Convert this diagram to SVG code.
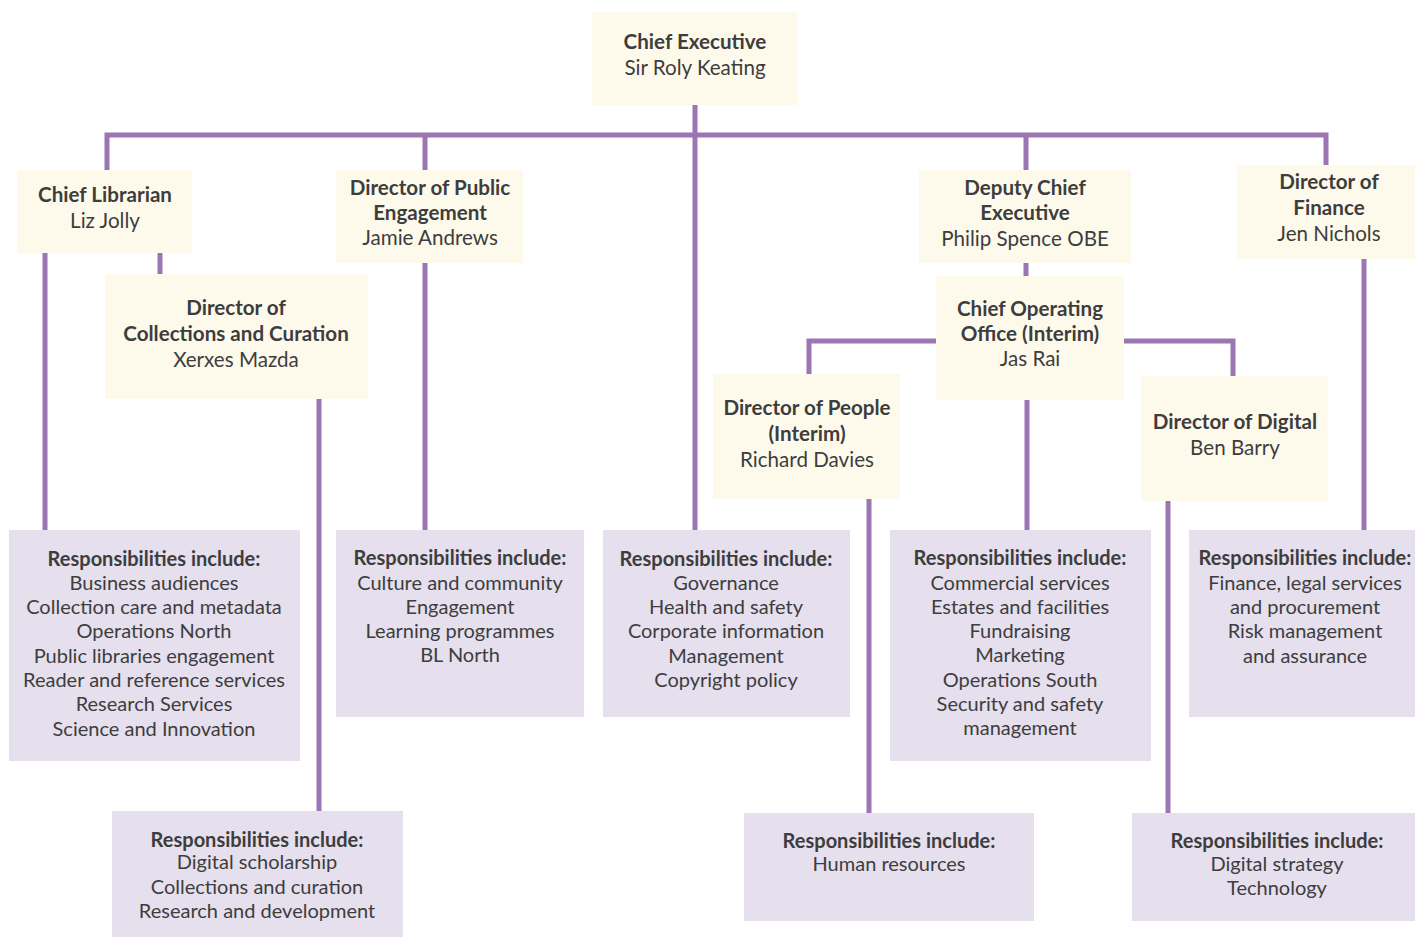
<svg xmlns="http://www.w3.org/2000/svg" width="1415" height="937" viewBox="0 0 1415 937">
<style>
.role{fill:#fefaeb}
.resp{fill:#e5dfee}
.ln{stroke:#9c75b3;stroke-width:5;fill:none}
text{font-family:Lato,"Open Sans","Liberation Sans",sans-serif;font-size:20px;fill:#3d3d3d;text-anchor:middle}
.b{font-weight:bold}
.t{font-size:20.6px}
</style>
<rect width="1415" height="937" fill="#ffffff"/>
<g id="connectors">
<path class="ln" d="M107,170 V135 H1326 V165"/>
<path class="ln" d="M695,105 V530"/>
<path class="ln" d="M425,135 V170 M425,263 V530"/>
<path class="ln" d="M1026,135 V170 M1026,263 V276"/>
<path class="ln" d="M45,253 V530 M160,253 V274"/>
<path class="ln" d="M319,399 V811"/>
<path class="ln" d="M809,374 V341 H936 M1124,341 H1233 V376"/>
<path class="ln" d="M1027,400 V530"/>
<path class="ln" d="M869,499 V813"/>
<path class="ln" d="M1168,501 V813"/>
<path class="ln" d="M1364,259 V530"/>
</g>
<g id="chief-executive">
<rect class="role" x="592" y="12" width="205" height="93"/>
<text x="695" y="49" class="b t">Chief Executive</text>
<text x="695" y="75" class="t">Sir Roly Keating</text>
</g>
<g id="chief-librarian">
<rect class="role" x="17" y="170" width="175" height="83"/>
<text x="105" y="202" class="b t">Chief Librarian</text>
<text x="105" y="228" class="t">Liz Jolly</text>
</g>
<g id="director-public-engagement">
<rect class="role" x="336" y="170" width="187" height="93"/>
<text x="430" y="195" class="b t">Director of Public</text>
<text x="430" y="220" class="b t">Engagement</text>
<text x="430" y="245" class="t">Jamie Andrews</text>
</g>
<g id="director-collections">
<rect class="role" x="105" y="274" width="263" height="125"/>
<text x="236" y="315" class="b t">Director of</text>
<text x="236" y="341" class="b t">Collections and Curation</text>
<text x="236" y="367" class="t">Xerxes Mazda</text>
</g>
<g id="deputy-chief-executive">
<rect class="role" x="919" y="170" width="212" height="93"/>
<text x="1025" y="195" class="b t">Deputy Chief</text>
<text x="1025" y="220" class="b t">Executive</text>
<text x="1025" y="246" class="t">Philip Spence OBE</text>
</g>
<g id="director-finance">
<rect class="role" x="1237" y="165" width="178" height="94"/>
<text x="1329" y="189" class="b t">Director of</text>
<text x="1329" y="215" class="b t">Finance</text>
<text x="1329" y="241" class="t">Jen Nichols</text>
</g>
<g id="chief-operating-office">
<rect class="role" x="936" y="276" width="188" height="124"/>
<text x="1030" y="316" class="b t">Chief Operating</text>
<text x="1030" y="341" class="b t">Office (Interim)</text>
<text x="1030" y="366" class="t">Jas Rai</text>
</g>
<g id="director-people">
<rect class="role" x="713" y="374" width="187" height="125"/>
<text x="807" y="415" class="b t">Director of People</text>
<text x="807" y="441" class="b t">(Interim)</text>
<text x="807" y="467" class="t">Richard Davies</text>
</g>
<g id="director-digital">
<rect class="role" x="1141" y="376" width="187" height="125"/>
<text x="1235" y="429" class="b t">Director of Digital</text>
<text x="1235" y="455" class="t">Ben Barry</text>
</g>
<g id="resp-chief-librarian">
<rect class="resp" x="9" y="530" width="291" height="231"/>
<text x="154" y="566" class="b">Responsibilities include:</text>
<text x="154" y="590">Business audiences</text>
<text x="154" y="614">Collection care and metadata</text>
<text x="154" y="638">Operations North</text>
<text x="154" y="663">Public libraries engagement</text>
<text x="154" y="687">Reader and reference services</text>
<text x="154" y="711">Research Services</text>
<text x="154" y="736">Science and Innovation</text>
</g>
<g id="resp-public-engagement">
<rect class="resp" x="336" y="530" width="248" height="187"/>
<text x="460" y="565" class="b">Responsibilities include:</text>
<text x="460" y="590">Culture and community</text>
<text x="460" y="614">Engagement</text>
<text x="460" y="638">Learning programmes</text>
<text x="460" y="662">BL North</text>
</g>
<g id="resp-chief-executive">
<rect class="resp" x="603" y="530" width="247" height="187"/>
<text x="726" y="566" class="b">Responsibilities include:</text>
<text x="726" y="590">Governance</text>
<text x="726" y="614">Health and safety</text>
<text x="726" y="638">Corporate information</text>
<text x="726" y="663">Management</text>
<text x="726" y="687">Copyright policy</text>
</g>
<g id="resp-coo">
<rect class="resp" x="890" y="530" width="261" height="231"/>
<text x="1020" y="565" class="b">Responsibilities include:</text>
<text x="1020" y="590">Commercial services</text>
<text x="1020" y="614">Estates and facilities</text>
<text x="1020" y="638">Fundraising</text>
<text x="1020" y="662">Marketing</text>
<text x="1020" y="687">Operations South</text>
<text x="1020" y="711">Security and safety</text>
<text x="1020" y="735">management</text>
</g>
<g id="resp-finance">
<rect class="resp" x="1189" y="530" width="226" height="187"/>
<text x="1305" y="565" class="b">Responsibilities include:</text>
<text x="1305" y="590">Finance, legal services</text>
<text x="1305" y="614">and procurement</text>
<text x="1305" y="638">Risk management</text>
<text x="1305" y="663">and assurance</text>
</g>
<g id="resp-collections">
<rect class="resp" x="112" y="811" width="291" height="126"/>
<text x="257" y="847" class="b">Responsibilities include:</text>
<text x="257" y="869">Digital scholarship</text>
<text x="257" y="894">Collections and curation</text>
<text x="257" y="918">Research and development</text>
</g>
<g id="resp-people">
<rect class="resp" x="744" y="813" width="290" height="108"/>
<text x="889" y="848" class="b">Responsibilities include:</text>
<text x="889" y="871">Human resources</text>
</g>
<g id="resp-digital">
<rect class="resp" x="1132" y="813" width="283" height="108"/>
<text x="1277" y="848" class="b">Responsibilities include:</text>
<text x="1277" y="871">Digital strategy</text>
<text x="1277" y="895">Technology</text>
</g>
</svg>
